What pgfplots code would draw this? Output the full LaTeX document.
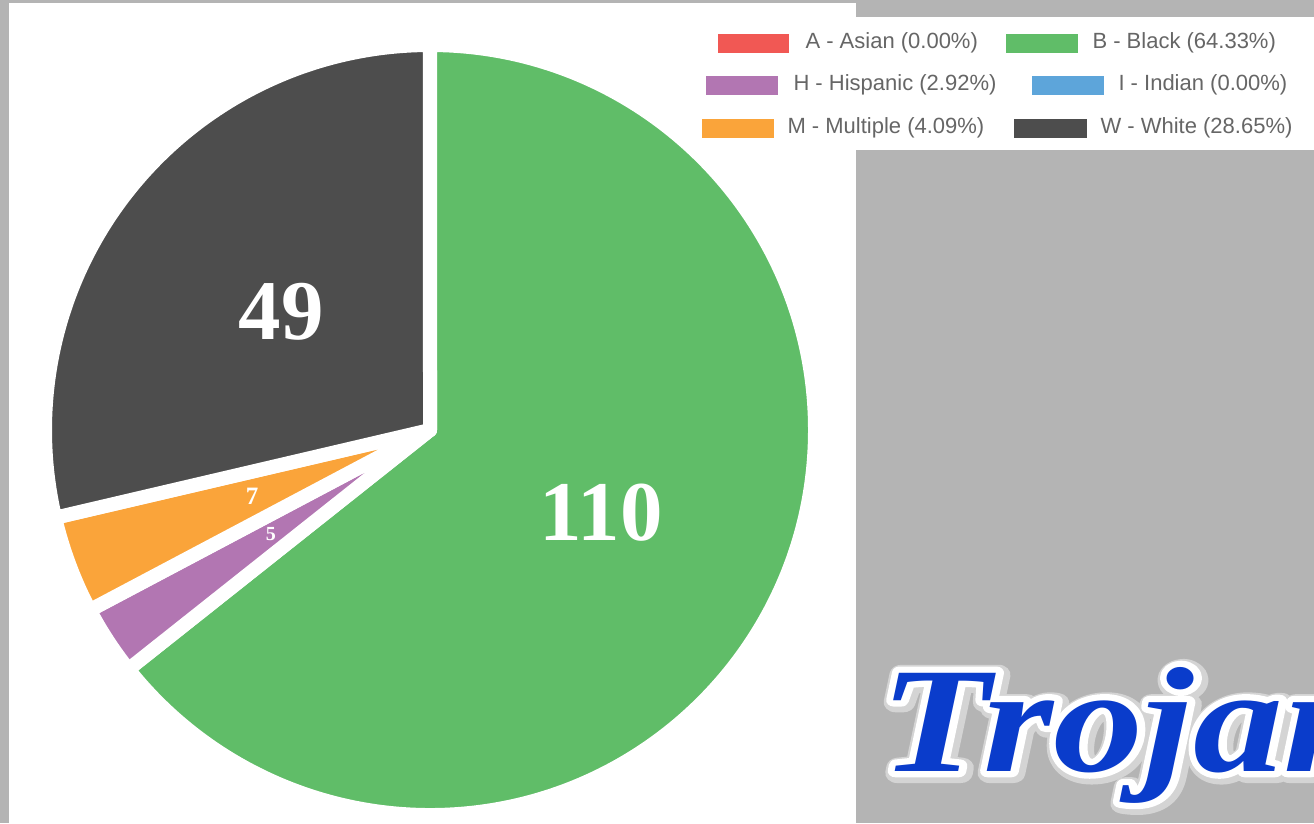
\documentclass[border=0pt]{standalone}
\usepackage{fontspec}
\setmainfont{Liberation Sans}
\newfontfamily\numfont{Liberation Serif}
\usepackage{pgfplots}
\usepackage{pgfplotstable}
\pgfplotsset{compat=1.18}

\definecolor{bggray}{HTML}{B4B4B4}
\definecolor{pieA}{HTML}{F15854}
\definecolor{pieB}{HTML}{60BD68}
\definecolor{pieH}{HTML}{B276B2}
\definecolor{pieI}{HTML}{5DA5DA}
\definecolor{pieM}{HTML}{FAA43A}
\definecolor{pieW}{HTML}{4D4D4D}
\definecolor{legtext}{HTML}{666666}
\definecolor{logoblue}{HTML}{0A3CCB}
\definecolor{logoshadow}{HTML}{D4D4D4}

% counts per group, in Chart.js order
\pgfplotstableread{
key name value
A Asian 0
B Black 110
H Hispanic 5
I Indian 0
M Multiple 7
W White 49
}\piedata

\pgfplotstablegetelem{0}{value}\of\piedata \edef\vA{\pgfplotsretval}
\pgfplotstablegetelem{1}{value}\of\piedata \edef\vB{\pgfplotsretval}
\pgfplotstablegetelem{2}{value}\of\piedata \edef\vH{\pgfplotsretval}
\pgfplotstablegetelem{3}{value}\of\piedata \edef\vI{\pgfplotsretval}
\pgfplotstablegetelem{4}{value}\of\piedata \edef\vM{\pgfplotsretval}
\pgfplotstablegetelem{5}{value}\of\piedata \edef\vW{\pgfplotsretval}
\pgfmathsetmacro\tot{\vA+\vB+\vH+\vI+\vM+\vW}
% slice boundaries, clockwise from 12 o'clock
\pgfmathsetmacro\aB{90-360*(\vA/\tot)}
\pgfmathsetmacro\bB{\aB-360*(\vB/\tot)}
\pgfmathsetmacro\bH{\bB-360*(\vH/\tot)}
\pgfmathsetmacro\bI{\bH-360*(\vI/\tot)}
\pgfmathsetmacro\bM{\bI-360*(\vM/\tot)}
\pgfmathsetmacro\bW{\bM-360*(\vW/\tot)}
\pgfmathsetmacro\mB{(\aB+\bB)/2}
\pgfmathsetmacro\mH{(\bB+\bH)/2}
\pgfmathsetmacro\mM{(\bI+\bM)/2}
\pgfmathsetmacro\mW{(\bM+\bW)/2}

\newcommand\logotext{\fontsize{60}{60}\selectfont\numfont\bfseries\itshape Trojan}
% outlined text: stroke mode for xdvipdfmx
\newcommand\strokedlogo[1]{\special{pdf:literal direct 1 Tr #1 w 1 j}\logotext\special{pdf:literal direct 0 Tr}}

\begin{document}
\begin{tikzpicture}[x=0.4pt,y=-0.4pt]
\useasboundingbox (0,0) rectangle (1314,823);
\clip (0,0) rectangle (1314,823);
\fill[bggray] (0,0) rectangle (1314,823);
\fill[white] (9,3) rectangle (856,823);
\fill[white] (856,17) rectangle (1314,150);

\begin{axis}[
    at={(0,823)}, anchor=south west,
    scale only axis,
    width=525.6pt, height=329.2pt,
    xmin=0, xmax=1314, ymin=0, ymax=823,
    y dir=reverse,
    enlargelimits=false,
    hide axis,
    clip=false,
  ]
  \addplot[draw=none] coordinates {(430,430)};
  \tikzset{slice/.style={draw=white, line width=5.6pt, line join=round}}
  \fill[pieB, slice] (axis cs:430,430) -- ++(\aB:154pt) arc[start angle=\aB, end angle=\bB, radius=154pt] -- cycle;
  \fill[pieH, slice] (axis cs:430,430) -- ++(\bB:154pt) arc[start angle=\bB, end angle=\bH, radius=154pt] -- cycle;
  \fill[pieM, slice] (axis cs:430,430) -- ++(\bI:154pt) arc[start angle=\bI, end angle=\bM, radius=154pt] -- cycle;
  \fill[pieW, slice] (axis cs:430,430) -- ++(\bM:154pt) arc[start angle=\bM, end angle=\bW, radius=154pt] -- cycle;
  % value labels at half radius
  \path (axis cs:430,430) ++(\mB:76pt) node[white, font=\fontsize{34}{34}\selectfont\numfont\bfseries] {\vB};
  \path (axis cs:430,430) ++(\mW:76pt) node[white, font=\fontsize{34}{34}\selectfont\numfont\bfseries] {\vW};
  \path (axis cs:430,430) ++(\mM:76pt) node[white, font=\fontsize{10}{10}\selectfont\numfont\bfseries] {\vM};
  \path (axis cs:430,430) ++(\mH:76pt) node[white, font=\fontsize{8}{8}\selectfont\numfont\bfseries] {\vH};
\end{axis}

% legend
\begin{scope}[every node/.style={anchor=west, inner sep=0pt, text=legtext, font=\fontsize{8.8}{10}\selectfont}]
  \fill[pieA] (718,34) rectangle (789,53);  \node at (805,43) {A - Asian (0.00\%)};
  \fill[pieB] (1006,34) rectangle (1078,53); \node at (1092,43) {B - Black (64.33\%)};
  \fill[pieH] (706,76) rectangle (778,95);  \node at (793,85) {H - Hispanic (2.92\%)};
  \fill[pieI] (1032,76) rectangle (1104,95); \node at (1118,85) {I - Indian (0.00\%)};
  \fill[pieM] (702,119) rectangle (774,138); \node at (787,128) {M - Multiple (4.09\%)};
  \fill[pieW] (1014,119) rectangle (1087,138); \node at (1100,128) {W - White (28.65\%)};
\end{scope}

% logo
\node[anchor=base west, inner sep=0pt, xscale=1.2, text=logoshadow] at (882,773) {\strokedlogo{8}};
\node[anchor=base west, inner sep=0pt, xscale=1.2, text=white] at (880,771) {\strokedlogo{5}};
\node[anchor=base west, inner sep=0pt, xscale=1.2, text=logoblue] at (880,771) {\logotext};
\end{tikzpicture}
\end{document}
